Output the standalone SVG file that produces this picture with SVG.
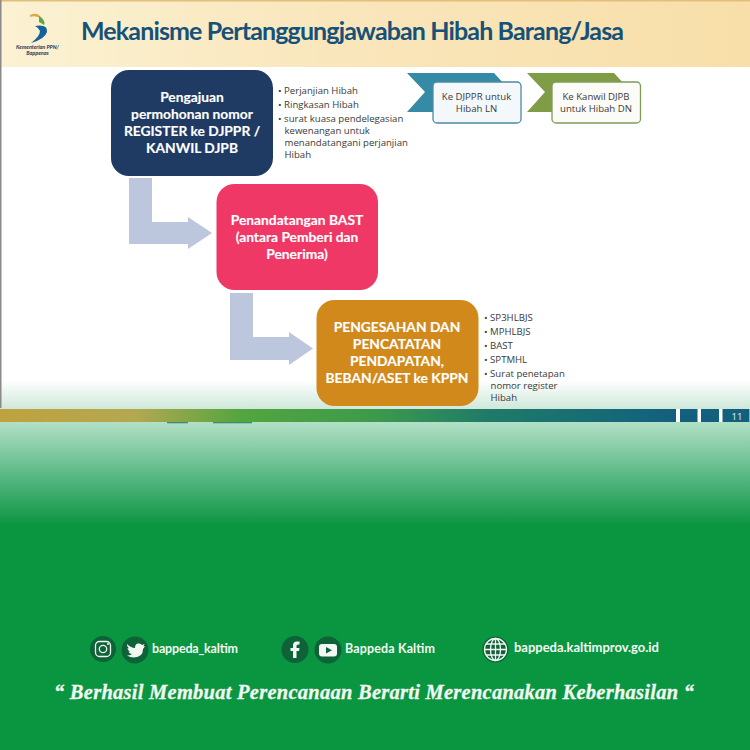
<svg xmlns="http://www.w3.org/2000/svg" width="750" height="750" viewBox="0 0 750 750">
<style>
.box{font:700 13.800px "Lato",sans-serif;fill:#fff;text-anchor:middle;stroke:#fff;stroke-width:.15}
.li{font:400 9.600px "Open Sans",sans-serif;fill:#3a3a3a}
.tag{font:400 9.600px "Open Sans",sans-serif;fill:#3a3a3a;text-anchor:middle}
.ft{font:700 12.500px "Lato",sans-serif;fill:#f2f8f2}
.arr{fill:#bcc7de}
.ic{fill:#0d6238}
.g{fill:none;stroke:#f4f8f4;stroke-width:1.300}
</style>
<defs>
<linearGradient id="hd" x1="0" x2="1" y1="0" y2="0"><stop offset="0" stop-color="#fbf2d3"/><stop offset=".45" stop-color="#f9e6bb"/><stop offset="1" stop-color="#f8dfa9"/></linearGradient>
<linearGradient id="bar" x1="0" x2="1" y1="0" y2="0"><stop offset="0" stop-color="#bfa23f"/><stop offset=".2" stop-color="#b3a850"/><stop offset=".36" stop-color="#52a53f"/><stop offset=".55" stop-color="#3e9a4b"/><stop offset=".72" stop-color="#1f7b68"/><stop offset="1" stop-color="#125f7e"/></linearGradient>
<linearGradient id="fade" x1="0" x2="0" y1="0" y2="1"><stop offset="0" stop-color="#fff"/><stop offset="1" stop-color="#cfe8da"/></linearGradient>
<linearGradient id="grn" x1="0" x2="0" y1="0" y2="1"><stop offset="0" stop-color="#b2e0c6"/><stop offset=".5" stop-color="#5bb986"/><stop offset="1" stop-color="#0a9540"/></linearGradient>
</defs>
<rect width="750" height="750" fill="#fff"/>
<rect x="0" y="0" width="750" height="67" fill="url(#hd)"/>
<rect x="0" y="0" width="750" height="1.500" fill="#e2c07a"/>
<rect x="0" y="380" width="750" height="29" fill="url(#fade)"/>
<rect x="0" y="0" width="1.500" height="408" fill="#8a8a8a"/>
<rect x="0" y="422" width="750" height="104" fill="url(#grn)"/>
<rect x="0" y="526" width="750" height="224" fill="#0a9540"/>
<rect x="0" y="409" width="676" height="13" fill="url(#bar)"/>
<rect x="680" y="409" width="17.500" height="13" fill="#125f7e"/>
<rect x="701" y="409" width="18" height="13" fill="#125f7e"/>
<rect x="722.500" y="409" width="27" height="13" fill="#125f7e"/>
<rect x="167" y="422" width="21" height="1.300" fill="#3d8a76"/><rect x="213" y="422" width="39" height="1.300" fill="#3d8a76"/>
<text x="737" y="419.500" text-anchor="middle" style="font:400 9.500px 'Open Sans',sans-serif;fill:#e8f2f4">11</text>

<g id="logo">
<path d="M30 15 Q38 11 42 19 Q36 15 30 17Z" fill="#e0a650"/>
<path d="M39 16 Q46 20 44 25 Q41 23 39 22Z" fill="#5aa845"/>
<path d="M35 26 Q48 24 47 32 Q45 39 31 43 Q40 36 40 31 Q39 28 35 26Z" fill="#17629c"/>
<text x="37.500" y="48.500" text-anchor="middle" style="font:italic 700 5.400px 'Lato',sans-serif;fill:#1d3557">Kementerian PPN/</text>
<text x="37.500" y="55" text-anchor="middle" style="font:italic 700 5.400px 'Lato',sans-serif;fill:#1d3557">Bappenas</text>
</g>
<text id="title" x="81" y="40" textLength="543" style="font:700 25px 'Lato',sans-serif;fill:#165179">Mekanisme Pertanggungjawaban Hibah Barang/Jasa</text>

<g id="connectors">
<path class="arr" d="M129 178H152V222H188V217L212 233L188 249V244H129Z"/>
<path class="arr" d="M230 293H253V337H289V332L313 348.500L289 365V360H230Z"/>
</g>

<g id="node-register">
<rect x="111" y="70" width="162" height="106" rx="18" fill="#1f3a63"/>
<text class="box" x="192" y="102">Pengajuan</text>
<text class="box" x="192" y="119">permohonan nomor</text>
<text class="box" x="192" y="136">REGISTER ke DJPPR /</text>
<text class="box" x="192" y="153">KANWIL DJPB</text>
</g>
<g id="list-register" class="li">
<text x="278" y="94">• Perjanjian Hibah</text>
<text x="278" y="108">• Ringkasan Hibah</text>
<text x="278" y="122">• surat kuasa pendelegasian</text>
<text x="284.500" y="134">kewenangan untuk</text>
<text x="284.500" y="146">menandatangani perjanjian</text>
<text x="284.500" y="158">Hibah</text>
</g>
<g id="node-bast">
<rect x="216.500" y="184" width="161.500" height="106" rx="18" fill="#ef3866"/>
<text class="box" x="297" y="224.500">Penandatangan BAST</text>
<text class="box" x="297" y="241.500">(antara Pemberi dan</text>
<text class="box" x="297" y="258.500">Penerima)</text>
</g>
<g id="node-kppn">
<rect x="316.500" y="300" width="162" height="106" rx="18" fill="#d2891c"/>
<text class="box" x="397" y="332">PENGESAHAN DAN</text>
<text class="box" x="397" y="349">PENCATATAN</text>
<text class="box" x="397" y="366">PENDAPATAN,</text>
<text class="box" x="397" y="383">BEBAN/ASET ke KPPN</text>
</g>
<g id="list-kppn" class="li">
<text x="484" y="320.500">• SP3HLBJS</text>
<text x="484" y="334.500">• MPHLBJS</text>
<text x="484" y="348.500">• BAST</text>
<text x="484" y="362.500">• SPTMHL</text>
<text x="484" y="376.500">• Surat penetapan</text>
<text x="490.500" y="388.500">nomor register</text>
<text x="490.500" y="400.500">Hibah</text>
</g>
<g id="tag-ln">
<path d="M407 73H494L505 85V112H407L425 92Z" fill="#358ba5"/>
<rect x="433" y="82" width="88" height="41" rx="4" fill="#f4f8fa" stroke="#4b8ba3" stroke-width="1.300"/>
<text class="tag" x="476.500" y="100">Ke DJPPR untuk</text>
<text class="tag" x="476.500" y="112">Hibah LN</text>
</g>
<g id="tag-dn">
<path d="M527 73H614L625 85V112H527L545 92Z" fill="#7f9c47"/>
<rect x="552" y="82" width="88.500" height="41" rx="4" fill="#fbfcf8" stroke="#7f9c57" stroke-width="1.300"/>
<text class="tag" x="596" y="100">Ke Kanwil DJPB</text>
<text class="tag" x="596" y="112">untuk Hibah DN</text>
</g>

<g id="social-instagram">
<circle class="ic" cx="103" cy="649" r="13"/>
<rect class="g" x="95.500" y="641.500" width="15" height="15" rx="4"/>
<circle class="g" cx="103" cy="649" r="3.700"/>
<circle cx="108" cy="644" r="1" fill="#f4f8f4"/>
</g>
<g id="social-twitter">
<circle class="ic" cx="135" cy="650" r="13.500"/>
<path d="M127 644Q131 648 135 648Q135 643 139 643.500Q141 643.500 142 645L144.500 644L143.500 646.500L145 646Q144 648 143 649Q143 657 134 657.500Q130 657.500 127 655.500Q130 655.500 132 654Q129 653.500 128.500 651.500H130Q127.500 650 127.500 648L129 648.500Q126.500 646.500 127 644Z" fill="#f4f8f4"/>
</g>
<text class="ft" x="152" y="653" textLength="86">bappeda_kaltim</text>
<g id="social-facebook">
<circle class="ic" cx="295" cy="649.500" r="13.500"/>
<path d="M293 658V651H290.500V648H293V645.500Q293 641.500 297 641.500H299.500V644.500H298Q296.500 644.500 296.500 646V648H299.500L299 651H296.500V658Z" fill="#f4f8f4"/>
</g>
<g id="social-youtube">
<circle class="ic" cx="328" cy="650" r="13.500"/>
<rect x="319" y="644" width="18" height="12.500" rx="3" fill="#f4f8f4"/>
<path d="M326 647L332 650.200L326 653.500Z" fill="#0d6238"/>
</g>
<text class="ft" x="345" y="653" textLength="90">Bappeda Kaltim</text>
<g id="social-web">
<circle class="ic" cx="495.500" cy="649.500" r="13"/>
<circle class="g" cx="495.500" cy="649.500" r="11"/>
<ellipse class="g" cx="495.500" cy="649.500" rx="5" ry="11"/>
<path class="g" d="M495.500 638.500V660.500M484.500 649.500H506.500M486 644H505M486 655H505"/>
</g>
<text class="ft" x="514" y="652" textLength="145" style="font-size:13px">bappeda.kaltimprov.go.id</text>
<text id="motto" x="54" y="699" textLength="640" style="font:italic 700 20.500px 'Liberation Serif',serif;fill:#f2f8f2;stroke:#f2f8f2;stroke-width:.3">“ Berhasil  Membuat Perencanaan Berarti Merencanakan Keberhasilan “</text>
</svg>
